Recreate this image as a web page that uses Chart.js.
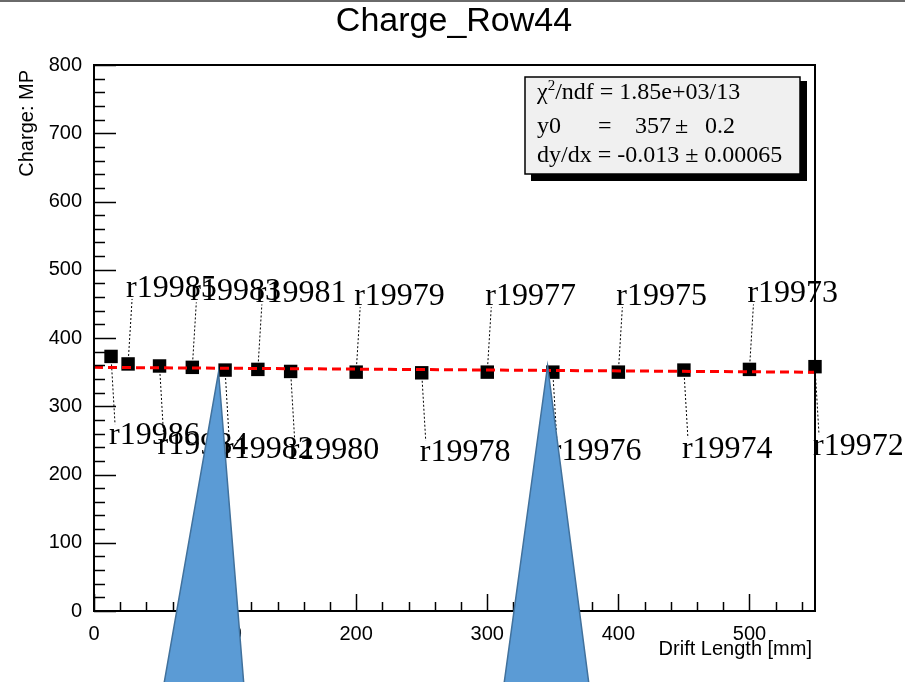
<!DOCTYPE html>
<html>
<head>
<meta charset="utf-8">
<script src="https://cdn.jsdelivr.net/npm/chart.js@4.4.0/dist/chart.umd.min.js"></script>
<style>
  body { margin: 0; background: #fff; }
</style>
</head>
<body>
<canvas id="myChart" width="905" height="682"></canvas>
<script>
// one point per run, drift length in mm, charge in MP
const driftLength = [13, 26, 50, 75, 100, 125, 150, 200, 250, 300, 350, 400, 450, 500, 550];
const charge = [373, 362, 359, 357, 353, 354, 351, 350, 349, 350, 350, 350, 353, 354, 358];
const runLabels = ['r19986', 'r19985', 'r19984', 'r19983', 'r19982', 'r19981', 'r19980', 'r19979',
  'r19978', 'r19977', 'r19976', 'r19975', 'r19974', 'r19973', 'r19972'];

// linear fit, y0 = 357, dy/dx = -0.013
const fitX = [0, 550];
const fitY = [357, 349.85];

const xTicks = [0, 100, 200, 300, 400, 500];
const yTicks = [0, 100, 200, 300, 400, 500, 600, 700, 800];

const fitStats = {
  chi2: '1.85e+03/13',
  y0: '357',
  y0err: '0.2',
  slope: '-0.013',
  slopeErr: '0.00065'
};

const SERIF = '"Liberation Serif", "Times New Roman", serif';
const SANS = '"Liberation Sans", Arial, sans-serif';

const rootStyle = {
  id: 'rootStyle',
  beforeDatasetsDraw(chart) {
    const { ctx, scales: { x, y } } = chart;
    ctx.save();
    // dotted leader lines from each point to its run label
    ctx.strokeStyle = '#000';
    ctx.lineWidth = 1;
    ctx.setLineDash([2, 2]);
    driftLength.forEach((v, i) => {
      const px = x.getPixelForValue(v), py = y.getPixelForValue(charge[i]);
      const ey = i % 2 === 1 ? py - 65 : py + 68;
      ctx.beginPath();
      ctx.moveTo(px, py);
      ctx.lineTo(px + 4, ey);
      ctx.stroke();
    });
    ctx.restore();
  },
  afterDatasetsDraw(chart) {
    const { ctx, chartArea: a, scales: { x, y } } = chart;
    ctx.save();

    // frame
    ctx.strokeStyle = '#000';
    ctx.lineWidth = 2;
    ctx.strokeRect(a.left, a.top, a.right - a.left, a.bottom - a.top);

    // inward ticks, majors every 100, minors every 20
    ctx.lineWidth = 1.5;
    ctx.beginPath();
    for (let v = y.min; v <= y.max; v += 20) {
      const py = Math.round(y.getPixelForValue(v)) + 0.5;
      ctx.moveTo(a.left, py);
      ctx.lineTo(a.left + (v % 100 === 0 ? 22 : 11), py);
    }
    for (let v = x.min; v <= x.max; v += 20) {
      const px = Math.round(x.getPixelForValue(v)) + 0.5;
      ctx.moveTo(px, a.bottom);
      ctx.lineTo(px, a.bottom - (v % 100 === 0 ? 17 : 9));
    }
    ctx.stroke();

    // run labels
    ctx.fillStyle = '#000';
    ctx.font = '32px ' + SERIF;
    ctx.textAlign = 'left';
    ctx.textBaseline = 'alphabetic';
    driftLength.forEach((v, i) => {
      const px = x.getPixelForValue(v), py = y.getPixelForValue(charge[i]);
      const by = i % 2 === 1 ? py - 67 : py + 88;
      ctx.fillText(runLabels[i], px - 2, by);
    });

    // stats box with shadow
    const bx = 525, by = 77, bw = 275, bh = 97;
    ctx.fillStyle = '#000';
    ctx.fillRect(bx + 6, by + 4, bw + 1, bh + 3);
    ctx.fillStyle = '#f0f0f0';
    ctx.fillRect(bx, by, bw, bh);
    ctx.lineWidth = 1.5;
    ctx.strokeRect(bx, by, bw, bh);

    ctx.fillStyle = '#000';
    ctx.font = '24px ' + SERIF;
    let tx = bx + 12;
    ctx.fillText('\u03c7', tx, by + 22);
    tx += ctx.measureText('\u03c7').width;
    ctx.font = '15px ' + SERIF;
    ctx.fillText('2', tx, by + 13);
    tx += ctx.measureText('2').width;
    ctx.font = '24px ' + SERIF;
    ctx.fillText('/ndf = ' + fitStats.chi2, tx, by + 22);

    ctx.fillText('y0', bx + 12, by + 56);
    ctx.fillText('=', bx + 73, by + 56);
    ctx.fillText(fitStats.y0, bx + 110, by + 56);
    ctx.fillText('\u00b1', bx + 150, by + 56);
    ctx.fillText(fitStats.y0err, bx + 180, by + 56);

    ctx.fillText('dy/dx = ' + fitStats.slope + ' \u00b1 ' + fitStats.slopeErr, bx + 12, by + 85);

    // titles
    ctx.font = '34px ' + SANS;
    ctx.textAlign = 'center';
    ctx.fillText('Charge_Row44', 454, 31);

    ctx.font = '20px ' + SANS;
    ctx.textAlign = 'right';
    ctx.fillText('Drift Length [mm]', 812, 655);

    ctx.save();
    ctx.translate(33, 70);
    ctx.rotate(-Math.PI / 2);
    ctx.fillText('Charge: MP', 0, 0);
    ctx.restore();

    // top border of the screenshot
    ctx.strokeStyle = '#6a6a6a';
    ctx.lineWidth = 2;
    ctx.beginPath();
    ctx.moveTo(0, 1);
    ctx.lineTo(chart.width, 1);
    ctx.stroke();

    // blue pointer triangles, tips on the plot, bases off the bottom edge
    const arrows = [
      { tip: [95, 350], left: -0.175, right: 0.081 },
      { tip: [346, 359], left: -0.137, right: 0.130 }
    ];
    ctx.fillStyle = '#5b9bd5';
    ctx.strokeStyle = '#41719c';
    ctx.lineWidth = 1.5;
    arrows.forEach(ar => {
      const px = x.getPixelForValue(ar.tip[0]), py = y.getPixelForValue(ar.tip[1]);
      const baseY = chart.height + 20;
      const dy = baseY - py;
      ctx.beginPath();
      ctx.moveTo(px, py);
      ctx.lineTo(px + ar.left * dy, baseY);
      ctx.lineTo(px + ar.right * dy, baseY);
      ctx.closePath();
      ctx.fill();
      ctx.stroke();
    });

    ctx.restore();
  }
};

const ctx = document.getElementById('myChart');
new Chart(ctx, {
  type: 'scatter',
  data: {
    datasets: [{
      label: 'fit',
      data: fitX.map((v, i) => ({ x: v, y: fitY[i] })),
      showLine: true,
      borderColor: '#ff0000',
      borderWidth: 3,
      borderDash: [9, 5],
      pointRadius: 0
    }, {
      label: 'charge',
      data: driftLength.map((v, i) => ({ x: v, y: charge[i] })),
      pointStyle: 'rect',
      pointRadius: 9.5,
      backgroundColor: '#000',
      borderColor: '#000',
      borderWidth: 0,
      clip: false
    }]
  },
  options: {
    responsive: false,
    animation: false,
    layout: { padding: { left: 0, top: 65, right: 90, bottom: 0 } },
    plugins: {
      legend: { display: false },
      tooltip: { enabled: false },
      title: { display: false }
    },
    scales: {
      x: {
        type: 'linear',
        min: 0,
        max: 550,
        grid: { display: false },
        border: { display: false },
        afterBuildTicks: s => { s.ticks = xTicks.map(v => ({ value: v })); },
        afterFit: s => { s.height = 71; },
        ticks: { color: '#000', font: { family: SANS, size: 20 }, padding: 3, maxRotation: 0 }
      },
      y: {
        min: 0,
        max: 800,
        grid: { display: false },
        border: { display: false },
        afterBuildTicks: s => { s.ticks = yTicks.map(v => ({ value: v })); },
        afterFit: s => { s.width = 94; },
        ticks: { color: '#000', font: { family: SANS, size: 20 }, padding: 4 }
      }
    }
  },
  plugins: [rootStyle]
});
</script>
</body>
</html>
